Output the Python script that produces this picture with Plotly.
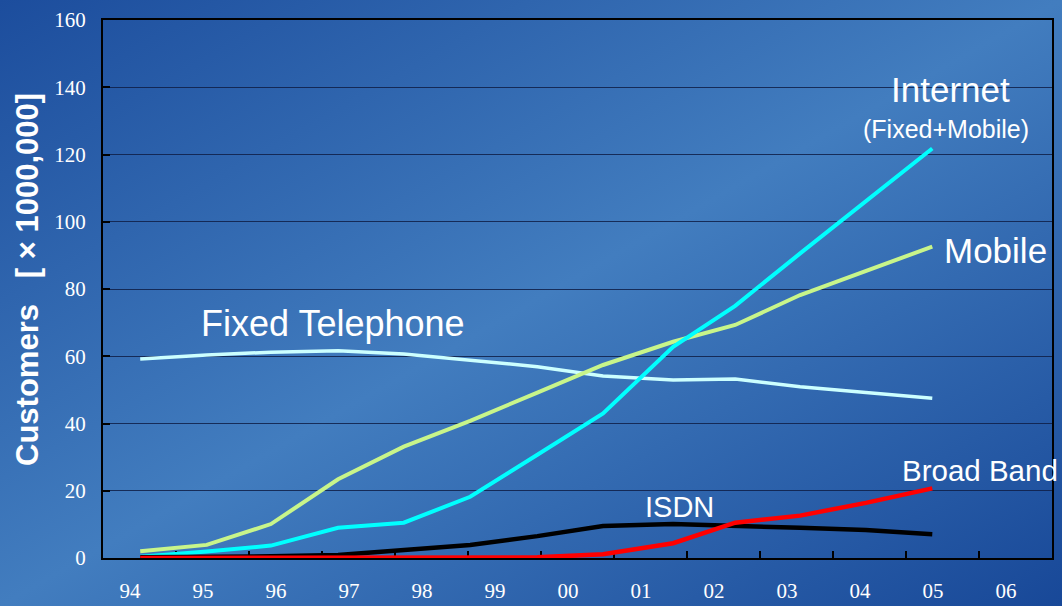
import base64
import plotly.graph_objects as go

# Survey points (fiscal-year positions on the year axis)
x_points = [1994.14, 1995.05, 1995.93, 1996.85, 1997.75, 1998.66, 1999.58,
            2000.48, 2001.44, 2002.29, 2003.18, 2004.08, 2004.99]

# Customers, millions
fixed_telephone = [59.2, 60.4, 61.2, 61.6, 60.7, 58.9, 56.9, 54.1, 52.9, 53.2, 50.9, 49.2, 47.5]
mobile = [2.0, 3.9, 10.1, 23.4, 33.1, 40.8, 49.2, 57.4, 64.3, 69.3, 78.2, 85.4, 92.6]
internet = [0.4, 1.9, 3.7, 9.0, 10.5, 18.2, 30.7, 43.0, 62.8, 75.0, 90.6, 106.3, 121.8]
isdn = [0.2, 0.3, 0.5, 0.9, 2.4, 3.9, 6.5, 9.5, 10.1, 9.4, 9.0, 8.3, 7.1]
broad_band = [0.0, 0.0, 0.0, 0.0, 0.0, 0.0, 0.2, 1.1, 4.4, 10.5, 12.6, 16.4, 20.7]

# Year axis labels
year_vals = list(range(1994, 2007))
year_text = ["94", "95", "96", "97", "98", "99", "00", "01", "02", "03", "04", "05", "06"]

y_ticks = [0, 20, 40, 60, 80, 100, 120, 140, 160]

W, H = 1062, 606
L, R, T, B = 103, 10, 20, 48
pw, ph = W - L - R, H - T - B

x_lo = 1993.63
x_hi = x_lo + 13

fig = go.Figure()

series = [
    ("Fixed Telephone", fixed_telephone, "#ccffff", 3.5),
    ("Mobile", mobile, "#c8f58a", 4),
    ("Internet", internet, "#00ffff", 4),
    ("ISDN", isdn, "#000000", 4.5),
    ("Broad Band", broad_band, "#ff0000", 4.5),
]
for name, vals, color, width in series:
    fig.add_trace(go.Scatter(
        x=x_points, y=vals, name=name, mode="lines",
        line=dict(color=color, width=width),
        xaxis="x", yaxis="y",
    ))

# Diagonal blue gradient behind the whole figure
svg = (
    f'<svg xmlns="http://www.w3.org/2000/svg" width="{W}" height="{H}" '
    f'viewBox="0 0 {W} {H}" preserveAspectRatio="none">'
    '<defs><linearGradient id="g" x1="0" y1="0" x2="1" y2="1">'
    '<stop offset="0" stop-color="#1c4d9d"/>'
    '<stop offset="0.5" stop-color="#427dbf"/>'
    '<stop offset="1" stop-color="#184898"/>'
    '</linearGradient></defs>'
    f'<rect width="{W}" height="{H}" fill="url(#g)"/></svg>'
)
src = "data:image/svg+xml;base64," + base64.b64encode(svg.encode()).decode()

fig.update_layout(
    width=W, height=H,
    margin=dict(l=L, r=R, t=T, b=B, pad=0, autoexpand=False),
    paper_bgcolor="#2a62ae",
    plot_bgcolor="rgba(0,0,0,0)",
    showlegend=False,
    images=[dict(
        source=src, xref="paper", yref="paper",
        x=-L / pw, y=1 + T / ph, sizex=W / pw, sizey=H / ph,
        xanchor="left", yanchor="top", sizing="stretch", layer="below",
    )],
    xaxis=dict(
        range=[x_lo, x_hi],
        tickvals=[x_lo + k for k in range(1, 13)],
        showticklabels=False, automargin=False,
        ticks="inside", ticklen=7, tickwidth=1.5, tickcolor="#000000",
        showgrid=False, zeroline=False,
        showline=True, linecolor="#000000", linewidth=2, mirror=True,
        layer="below traces",
    ),
    xaxis2=dict(
        range=[x_lo, x_hi], overlaying="x", anchor="y", side="bottom",
        tickvals=year_vals, ticktext=year_text, ticks="",
        ticklabelstandoff=18, automargin=False,
        tickfont=dict(family="Liberation Serif", size=21, color="#ffffff"),
        showgrid=False, zeroline=False, showline=False,
    ),
    yaxis=dict(
        range=[0, 160], tickvals=y_ticks, automargin=False,
        ticks="inside", ticklen=7, tickwidth=1.5, tickcolor="#000000",
        tickfont=dict(family="Liberation Serif", size=21, color="#ffffff"),
        ticklabelstandoff=11,
        showgrid=True, gridcolor="rgba(15,30,70,0.85)", gridwidth=1.3,
        zeroline=False,
        showline=True, linecolor="#000000", linewidth=2, mirror=True,
        layer="below traces",
    ),
)

# Dummy trace so the label axis is drawn
fig.add_trace(go.Scatter(x=[x_lo], y=[None], xaxis="x2", yaxis="y",
                         mode="markers", showlegend=False, hoverinfo="skip"))


def px(xp):
    return (xp - L) / pw


def py(yp):
    return (H - B - yp) / ph


labels = [
    ("Internet", 950, 90, 35),
    ("(Fixed+Mobile)", 946, 129, 25),
    ("Mobile", 995, 250, 35),
    ("Fixed Telephone", 333, 323, 36),
    ("Broad Band", 980, 470, 29.5),
    ("ISDN", 679, 507, 29),
]
for text, xp, yp, size in labels:
    fig.add_annotation(
        text=text, xref="paper", yref="paper", x=px(xp), y=py(yp),
        xanchor="center", yanchor="middle", showarrow=False,
        font=dict(family="Liberation Sans", size=size, color="#ffffff"),
    )

fig.add_annotation(
    text="<b>Customers   [ × 1000,000]</b>",
    xref="paper", yref="paper", x=px(27), y=py(280),
    xanchor="center", yanchor="middle", textangle=-90, showarrow=False,
    font=dict(family="Liberation Sans", size=31, color="#ffffff"),
)

fig.write_html("out.html")
